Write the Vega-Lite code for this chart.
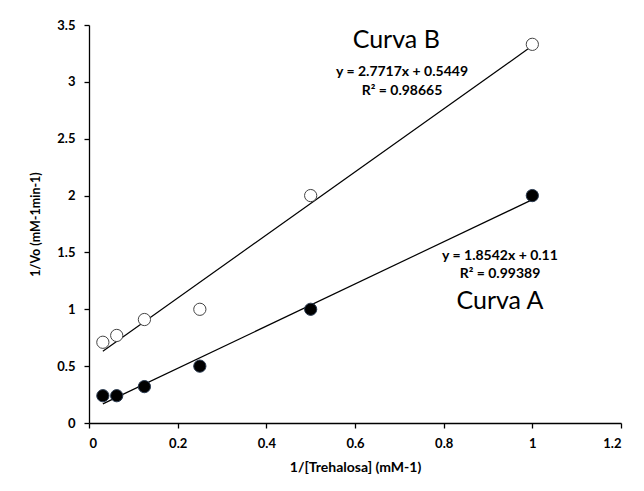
{
  "$schema": "https://vega.github.io/schema/vega-lite/v6.json",
  "width": 532,
  "height": 398,
  "autosize": {"type": "none"},
  "padding": {"left": 89, "top": 25, "right": 23, "bottom": 68},
  "background": "white",
  "config": {
    "view": {"stroke": null},
    "font": "Lato",
    "axis": {
      "grid": false,
      "domainColor": "#000000",
      "domainWidth": 1.3,
      "tickColor": "#000000",
      "tickWidth": 1.3,
      "tickSize": 5,
      "labelFont": "Lato",
      "labelFontWeight": "bold",
      "labelFontSize": 13,
      "labelColor": "#000000",
      "labelPadding": 9,
      "titleFont": "Lato",
      "titleFontWeight": "bold",
      "titleColor": "#000000"
    }
  },
  "datasets": {
    "points": [
      {"serie": "B", "x": 0.03125, "y": 0.71},
      {"serie": "B", "x": 0.0625, "y": 0.77},
      {"serie": "B", "x": 0.125, "y": 0.91},
      {"serie": "B", "x": 0.25, "y": 1.0},
      {"serie": "B", "x": 0.5, "y": 2.0},
      {"serie": "B", "x": 1.0, "y": 3.33},
      {"serie": "A", "x": 0.03125, "y": 0.24},
      {"serie": "A", "x": 0.0625, "y": 0.24},
      {"serie": "A", "x": 0.125, "y": 0.32},
      {"serie": "A", "x": 0.25, "y": 0.5},
      {"serie": "A", "x": 0.5, "y": 1.0},
      {"serie": "A", "x": 1.0, "y": 2.0}
    ],
    "trend": [
      {"serie": "B", "x": 0.03125, "y": 0.6315},
      {"serie": "B", "x": 1.0, "y": 3.3166},
      {"serie": "A", "x": 0.03125, "y": 0.168},
      {"serie": "A", "x": 1.0, "y": 1.9642}
    ],
    "titles": [
      {"label": "Curva B", "x": 0.693, "y": 3.368},
      {"label": "Curva A", "x": 0.927, "y": 1.07}
    ],
    "eqs": [
      {"label": "y = 2.7717x + 0.5449", "x": 0.706, "y": 3.087},
      {"label": "R² = 0.98665", "x": 0.706, "y": 2.92},
      {"label": "y = 1.8542x + 0.11", "x": 0.927, "y": 1.469},
      {"label": "R² = 0.99389", "x": 0.927, "y": 1.31}
    ]
  },
  "layer": [
    {
      "data": {"name": "trend"},
      "mark": {"type": "line", "color": "#000000", "strokeWidth": 1.2},
      "encoding": {
        "x": {"field": "x", "type": "quantitative", "scale": {"domain": [0, 1.2]},
              "axis": {"values": [0, 0.2, 0.4, 0.6, 0.8, 1, 1.2], "format": "~g", "title": "1/[Trehalosa] (mM-1)", "titleFontSize": 14, "titlePadding": 10}},
        "y": {"field": "y", "type": "quantitative", "scale": {"domain": [0, 3.5]},
              "axis": {"values": [0, 0.5, 1, 1.5, 2, 2.5, 3, 3.5], "format": "~g", "title": "1/Vo (mM-1min-1)", "titleFontSize": 12.5, "titlePadding": 14}},
        "detail": {"field": "serie"}
      }
    },
    {
      "data": {"name": "points"},
      "transform": [{"filter": "datum.serie === 'A'"}],
      "mark": {"type": "point", "shape": "circle", "filled": true, "fill": "#000000", "stroke": "#2a3a50", "strokeWidth": 1, "size": 150, "opacity": 1},
      "encoding": {
        "x": {"field": "x", "type": "quantitative"},
        "y": {"field": "y", "type": "quantitative"}
      }
    },
    {
      "data": {"name": "points"},
      "transform": [{"filter": "datum.serie === 'B'"}],
      "mark": {"type": "point", "shape": "circle", "filled": true, "fill": "#ffffff", "stroke": "#444444", "strokeWidth": 1, "size": 150, "opacity": 1},
      "encoding": {
        "x": {"field": "x", "type": "quantitative"},
        "y": {"field": "y", "type": "quantitative"}
      }
    },
    {
      "data": {"name": "titles"},
      "mark": {"type": "text", "font": "Lato", "fontSize": 25, "color": "#000000", "align": "center", "baseline": "middle"},
      "encoding": {
        "x": {"field": "x", "type": "quantitative"},
        "y": {"field": "y", "type": "quantitative"},
        "text": {"field": "label"}
      }
    },
    {
      "data": {"name": "eqs"},
      "mark": {"type": "text", "font": "Lato", "fontSize": 14, "fontWeight": "bold", "color": "#000000", "align": "center", "baseline": "middle"},
      "encoding": {
        "x": {"field": "x", "type": "quantitative"},
        "y": {"field": "y", "type": "quantitative"},
        "text": {"field": "label"}
      }
    }
  ]
}
